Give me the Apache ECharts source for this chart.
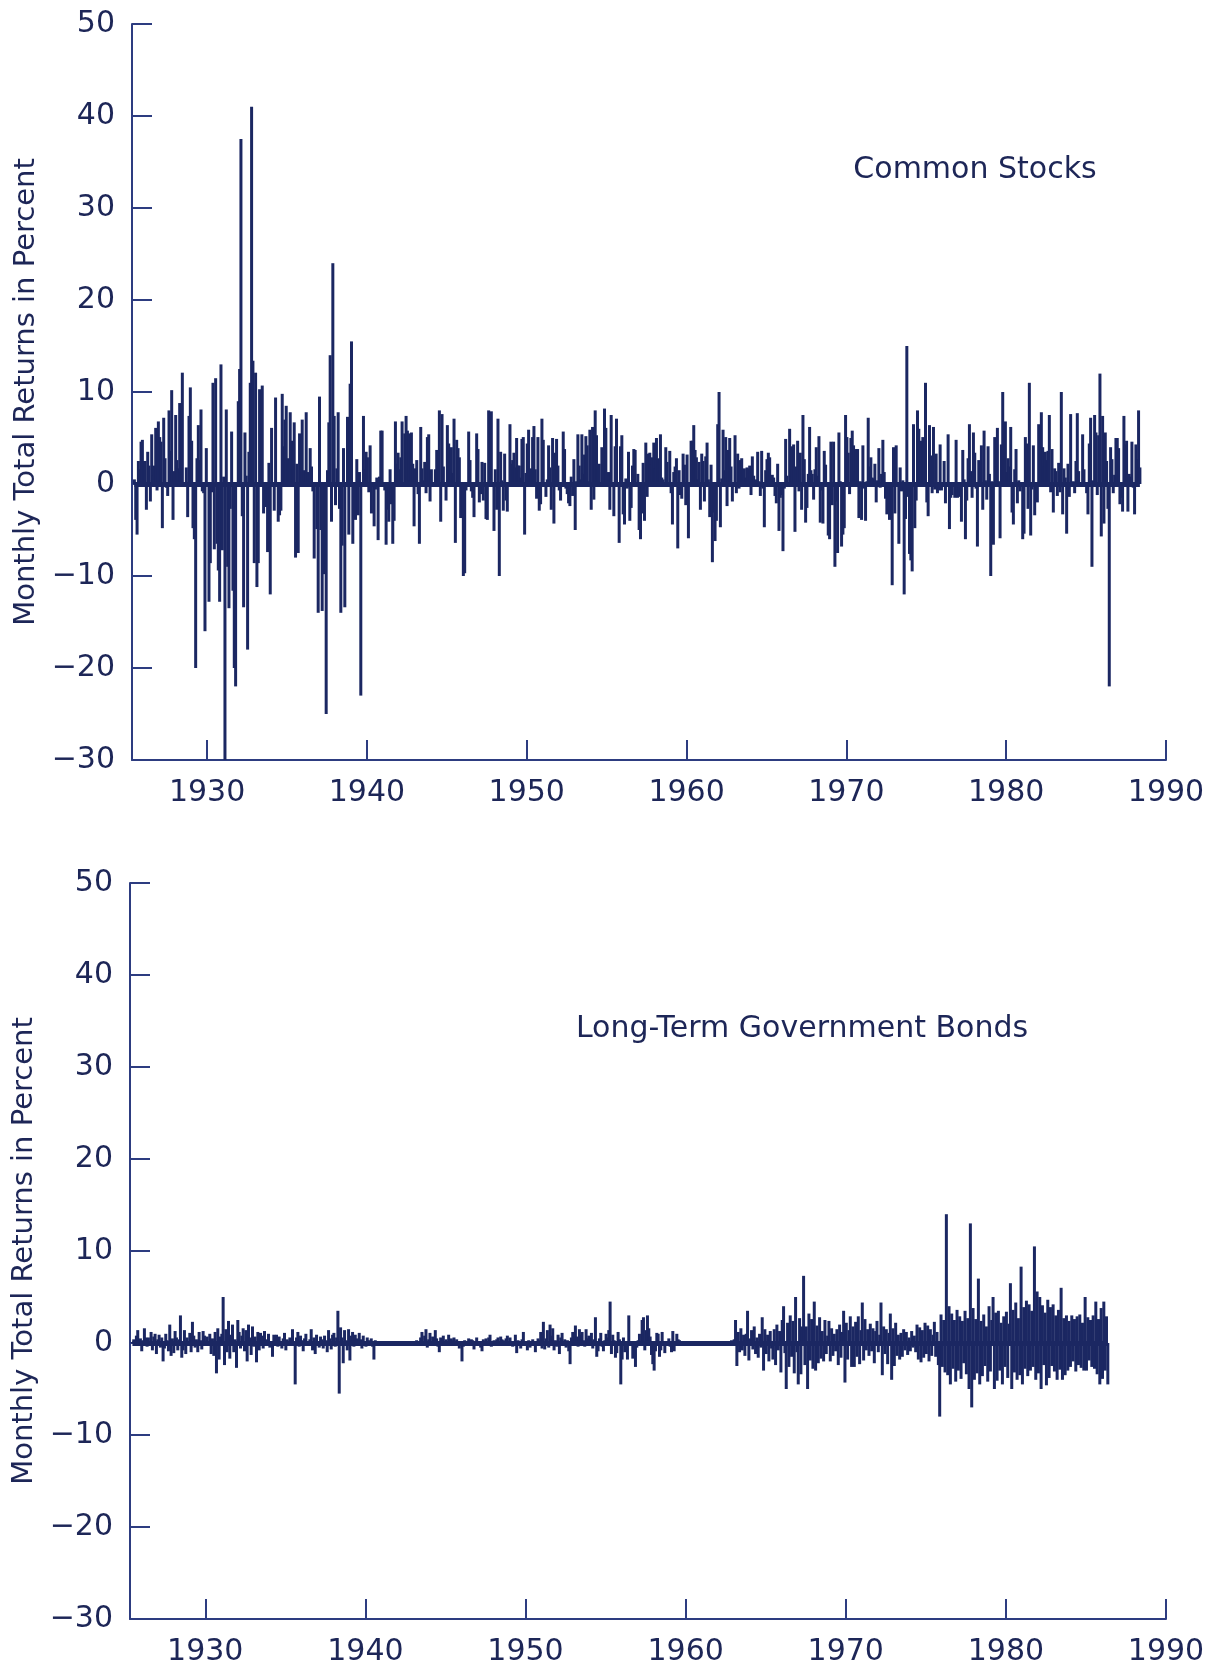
<!DOCTYPE html>
<html>
<head>
<meta charset="utf-8">
<title>Monthly Total Returns</title>
<script src="https://cdn.jsdelivr.net/npm/echarts@6.0.0/dist/echarts.min.js"></script>
<style>
    html, body { margin: 0; padding: 0; background: #ffffff; }
    #Chart { width: 1217px; height: 1667px; }
</style>
</head>
<body>
<div id="Chart"></div>
<script>
var Chart = echarts.init(document.getElementById('Chart'));

// decade ticks on the time axis
var yearTicks = [1930, 1940, 1950, 1960, 1970, 1980, 1990];

// monthly total returns (%), one line per year, Jan..Dec
var stockYears = [1926, 1988];
var stockReturns = [
    0.5, -3.9, -5.5, 2.5, 1.6, 4.6, 4.8, 2.5, 2.5, -2.8, 3.5, 2.0,          // 1926
    -1.9, 5.4, 0.9, 2.0, 6.1, -0.7, 6.8, 5.1, 4.6, -4.8, 7.2, 2.8,          // 1927
    -0.4, -1.3, 8.0, 3.6, 10.2, -3.9, 1.4, 7.5, 2.6, 1.7, 8.8, 1.3,         // 1928
    12.1, -0.2, -0.1, 1.8, -3.6, 7.4, 10.5, 4.7, -4.8, -6.0, -20.0, 2.8,    // 1929
    6.4, 2.6, 8.1, -0.8, -1.0, -16.0, 3.9, 0.1, -12.8, -8.6, -0.9, 11.0,    // 1930
    -7.1, 11.5, -6.5, -9.4, -12.8, 13.0, -7.2, 0.8, -30.0, 8.1, -9.0, -13.5, // 1931
    -2.7, 5.7, -11.6, -20.0, -22.0, -0.3, 9.0, 12.5, 37.5, -3.5, -13.4, 5.6, // 1932
    0.9, -18.0, 3.5, 11.0, 41.0, 13.4, -8.6, 12.1, -11.2, -8.6, 10.3, 2.5,  // 1933
    10.7, -3.2, 0.2, -2.5, -7.4, 2.3, -12.0, 6.1, -0.3, -2.9, 9.4, 0.1,     // 1934
    -4.1, -3.4, -2.9, 9.8, 4.1, 7.0, 8.5, 2.8, 2.6, 7.8, 4.7, 4.6,          // 1935
    6.7, -8.0, 2.2, -7.5, 5.5, 3.3, 7.0, 1.5, 0.3, 7.8, 1.3, -0.3,          // 1936
    3.9, 1.9, -0.8, -8.1, -0.2, -4.9, -14.0, 9.5, -5.0, -13.8, -9.8, -8.6,  // 1937
    -25.0, 1.5, 6.7, 14.0, -4.1, 24.0, 7.4, -2.3, 1.7, 7.8, -2.7, -14.0,    // 1938
    -6.7, 3.9, -13.4, -0.3, 7.3, -5.5, 10.9, 15.5, -6.5, -0.1, -3.9, 2.7,   // 1939
    -3.4, 1.3, -23.0, -0.2, 7.4, 1.6, 3.5, 2.9, -0.9, 4.2, -3.2, 0.1,       // 1940
    -4.6, -0.6, 0.7, -6.1, 0.8, 5.8, 5.8, 0.1, -0.7, -6.6, -2.8, -4.1,      // 1941
    1.6, -2.2, -6.5, -4.0, 6.8, 2.2, 3.4, 1.6, 2.9, 6.8, -0.2, 5.5,         // 1942
    7.4, 5.8, 5.5, 0.4, 5.6, 2.2, -4.6, 1.7, 2.6, -1.1, -6.5, 6.2,          // 1943
    1.7, 0.4, 2.4, -1.0, 5.1, 5.4, -1.9, 1.6, -0.1, 0.2, 1.6, 3.7,          // 1944
    1.6, 8.0, -4.1, 7.6, 1.9, -0.1, -1.8, 6.4, 4.4, 3.2, 4.0, 1.2,          // 1945
    7.1, -6.4, 4.8, 3.9, 2.9, -3.7, -2.4, -10.0, -9.7, -0.7, -0.3, 5.7,     // 1946
    2.6, -0.8, -1.5, -3.6, -0.1, 5.5, 3.8, -2.0, -1.1, 2.4, -1.8, 2.3,      // 1947
    -3.8, -3.9, 8.0, 2.9, 7.9, 0.1, -5.1, 1.6, -2.8, 7.1, -10.0, 3.5,       // 1948
    0.4, -2.9, 3.3, -1.8, -3.0, 0.1, 6.5, 2.2, 2.6, 3.4, 1.8, 5.0,          // 1949
    2.0, 2.0, 0.7, 4.9, 5.1, -5.5, 1.2, 4.4, 5.9, 0.9, 1.7, 5.1,            // 1950
    6.3, 1.6, -1.6, 5.1, -2.9, -2.2, 7.1, 4.8, 0.1, -1.4, 0.5, 4.2,         // 1951
    1.8, -2.8, 5.0, -4.3, 3.4, 4.9, 2.0, -0.7, -1.8, 0.2, 5.7, 3.8,         // 1952
    -0.5, -1.1, -2.1, -2.4, 0.8, -1.3, 2.7, -5.0, 0.3, 5.4, 2.0, 0.5,       // 1953
    5.4, 1.1, 3.2, 5.2, 4.2, 0.3, 5.9, -2.8, 6.2, -1.7, 8.0, 5.3,           // 1954
    2.0, 2.2, -0.3, 4.0, 0.6, 8.2, 6.1, -0.3, 1.3, -2.8, 7.5, 0.1,          // 1955
    -3.5, 4.1, 7.1, -0.1, -6.4, 4.1, 5.3, -3.3, -4.4, 0.6, -0.5, 3.5,       // 1956
    -4.0, -2.6, 2.0, 3.8, 3.7, 0.1, 1.1, -5.0, -6.0, -3.2, 2.3, -4.0,       // 1957
    4.5, -1.4, 3.3, 3.4, 2.1, 2.9, 4.5, 1.7, 5.0, 2.7, 2.8, 5.4,            // 1958
    0.7, 0.5, 0.1, 4.0, 2.4, -0.2, 3.6, -1.0, -4.4, 1.3, 1.9, 2.8,          // 1959
    -7.0, 1.5, -1.2, -1.6, 3.3, 2.1, -2.3, 3.2, -5.9, -0.1, 4.7, 4.7,       // 1960
    6.4, 3.7, 2.9, 0.5, 2.4, -2.8, 3.3, 2.5, -1.9, 3.0, 4.5, 0.5,           // 1961
    -3.6, 2.1, -8.5, -3.1, -6.2, -4.0, 6.5, 10.0, -4.7, 0.6, 5.9, 1.5,      // 1962
    5.1, -2.4, 3.7, 5.0, 1.9, -1.9, -0.2, 5.3, -1.0, 3.3, -0.5, 2.6,        // 1963
    2.8, 1.5, 1.7, 0.7, 1.8, 1.7, 2.0, -1.2, 3.0, 0.9, 0.1, 0.5,            // 1964
    3.5, 0.3, -1.3, 3.6, -0.5, -4.7, 1.5, 2.7, 3.4, 2.9, -0.3, 1.0,         // 1965
    0.7, -1.3, -2.1, 2.2, -5.1, -1.5, -1.2, -7.3, -0.5, 4.9, 0.9, -0.1,     // 1966
    6.0, 0.8, 4.1, 4.3, -5.2, 1.9, 4.7, -0.8, 3.4, -2.8, 7.5, 2.7,          // 1967
    -4.2, -2.6, 1.1, 6.2, 1.5, 1.1, -1.7, 1.6, 4.0, 0.9, 5.2, -4.2,         // 1968
    -0.7, -4.3, 3.6, 2.1, 0.2, -5.6, -6.0, 4.6, -2.3, 4.6, -9.0, -1.9,      // 1969
    -7.5, 5.6, 0.3, -6.8, -5.5, -4.8, 7.5, 5.1, 3.4, -1.1, 5.0, 5.8,        // 1970
    4.2, 1.4, 3.8, 3.8, -3.7, 0.3, -3.9, 4.2, -0.5, -4.0, 0.3, 7.2,         // 1971
    1.9, 2.9, 0.7, 0.6, 2.2, -2.0, 0.4, 3.9, -0.4, 1.1, 4.8, 1.3,           // 1972
    -1.6, -3.3, -0.1, -3.9, -1.4, -11.0, 4.0, -3.2, 4.2, 0.1, -6.5, 1.8,    // 1973
    -0.8, 0.4, -12.0, -3.8, 15.0, -1.4, -7.6, -8.3, -9.5, 6.5, -4.8, -1.8,  // 1974
    8.0, 6.0, 2.4, 4.7, 5.1, 4.6, 11.0, -2.0, -3.5, 6.4, 3.1, -1.0,         // 1975
    6.2, -0.6, 3.3, -1.0, -0.7, 4.3, -0.7, 0.1, 2.5, -2.1, -0.1, 5.4,       // 1976
    -4.9, -1.5, -1.2, 0.1, -1.5, 4.8, -1.5, -1.4, 0.1, -4.1, 3.7, 0.5,      // 1977
    -6.0, -1.8, 2.8, 6.5, 1.4, -1.5, 5.6, 3.4, -0.5, -6.8, 2.6, 1.7,        // 1978
    4.2, -2.8, 5.8, 0.4, -1.7, 4.1, 1.1, -10.0, 0.3, -6.6, 5.1, 1.9,        // 1979
    6.1, 0.3, -5.9, 4.3, 10.0, 3.0, 6.8, 1.3, 2.8, 1.9, 6.2, -3.1,          // 1980
    -4.4, 1.6, 3.8, -2.1, 0.4, -0.8, -0.1, -6.0, -5.4, 5.1, 4.4, -2.7,      // 1981
    11.0, -5.6, -0.6, 4.2, -3.4, -1.8, -2.0, 6.5, 1.3, 7.8, 4.0, 1.9,       // 1982
    3.5, 2.6, 3.6, 7.5, -0.9, 3.8, -3.1, 1.7, 1.4, -1.3, 2.3, -0.9,         // 1983
    10.0, -3.3, 1.7, 0.7, -5.4, 2.2, -1.4, 7.6, 0.1, 0.3, -1.0, 2.5,        // 1984
    7.7, 1.4, 0.1, -0.3, 5.4, 1.6, -0.3, -1.0, -3.3, 4.4, 7.2, -9.0,        // 1985
    0.4, 7.5, 5.6, -1.2, 5.3, 12.0, -5.7, 7.4, -4.3, 5.6, 2.5, -2.7,        // 1986
    -22.0, 4.0, 2.7, -1.0, 1.0, 5.0, 5.0, 3.9, -2.2, -1.5, -3.0, 7.4,       // 1987
    4.3, 4.7, -3.0, 1.1, 0.8, 4.6, -0.4, -3.3, 4.3, 2.7, 8.0, 1.8           // 1988
];

var bondYears = [1926, 1986];
var bondReturns = [
    0.1, 0.4, -0.3, 0.8, 1.4, -0.2, 0.5, -0.9, 0.3, 1.6, 0.6, -0.4,         // 1926
    0.6, -0.3, 1.2, -0.8, 0.7, 1.0, -1.2, 0.4, 0.9, -0.5, 0.6, -2.0,        // 1927
    -0.6, 1.0, 0.3, -0.9, 2.0, -1.4, 0.5, -1.1, 1.3, 0.6, -0.8, 0.4,        // 1928
    3.0, -1.6, -0.8, 1.4, -1.2, 0.6, -0.3, 1.1, -1.0, 2.3, 0.8, -0.5,       // 1929
    0.4, -1.0, 1.2, 0.3, -0.7, 1.3, 0.8, 0.1, 0.7, -0.2, 1.0, -1.2,         // 1930
    0.5, -1.4, 1.2, -3.3, 1.6, -1.8, 0.7, 1.0, 5.0, -2.4, 1.5, -1.0,        // 1931
    2.4, -1.7, 0.9, 2.0, -1.0, 0.4, -2.7, 2.5, 1.2, -0.6, 0.8, 1.6,         // 1932
    -0.9, 1.4, -2.0, 2.0, 0.6, -1.3, 1.8, -0.4, 0.7, -2.1, 1.2, -0.8,       // 1933
    1.1, 0.8, -0.6, 1.3, 0.4, -0.3, 1.0, -0.5, 0.2, -1.5, 0.9, 0.3,         // 1934
    0.9, -0.4, 0.7, 0.2, -0.6, 0.5, 1.1, -0.8, 0.4, -0.2, 0.6, 0.1,         // 1935
    1.5, 0.2, -4.5, 0.6, 1.2, -0.4, 0.8, 0.3, -0.9, 0.5, 1.0, -0.2,         // 1936
    -0.3, 0.4, 1.5, -0.8, 0.6, -1.2, 0.9, 0.2, -0.5, 0.7, 0.4, -0.6,        // 1937
    0.8, 0.3, -1.0, 1.4, 0.5, -0.7, 0.9, 1.1, -0.4, 0.6, 3.5, -5.5,         // 1938
    1.7, 0.6, -2.2, 1.4, 0.3, -0.8, 1.5, -1.9, 0.8, 1.2, -0.4, 0.9,         // 1939
    0.5, -0.3, 1.1, 0.4, -0.6, 0.8, 0.2, -0.4, 0.6, 0.3, -0.2, 0.5,         // 1940
    -0.4, -1.8, 0.3, 0.1, -0.2, 0.2, 0.1, -0.1, 0.2, 0.1, -0.1, 0.2,        // 1941
    0.1, -0.1, 0.2, 0.1, -0.1, 0.1, 0.2, 0.1, 0.1, -0.1, 0.1, 0.2,          // 1942
    0.1, 0.1, 0.2, -0.1, 0.1, 0.1, 0.1, 0.2, 0.1, 0.3, -0.1, 0.2,           // 1943
    0.6, 1.2, -0.3, 0.8, 1.5, -0.5, 0.4, 1.1, -0.2, 0.7, 0.3, 1.4,          // 1944
    0.5, -0.4, -1.0, 0.6, 0.2, 0.8, -0.3, 0.4, 0.1, 0.9, -0.2, 0.5,         // 1945
    0.3, 0.6, -0.2, 0.4, 0.1, -0.6, 0.2, -2.0, -0.4, 0.3, 0.1, -0.3,        // 1946
    0.5, -0.2, 0.4, 0.3, -0.7, 0.2, 0.6, -0.3, 0.1, -0.5, -0.9, 0.4,        // 1947
    0.2, 0.5, -0.3, 0.6, 0.9, -0.4, 0.1, 0.3, -0.2, 0.4, 0.6, 0.2,          // 1948
    0.7, 0.4, 0.3, -0.2, 0.5, 0.8, -0.3, 0.6, 0.2, -0.4, 0.1, 0.9,          // 1949
    -1.1, 0.3, 0.2, -0.6, 0.4, 1.2, 0.1, -0.3, -0.8, 0.3, -0.5, 0.2,        // 1950
    0.4, -0.3, -1.0, 0.2, 0.5, 0.3, 1.2, -0.6, 2.3, -0.7, 0.5, 1.4,         // 1951
    -0.5, 2.0, 0.8, 1.6, -0.8, 0.3, -0.4, 0.9, -1.2, 0.6, 1.1, -0.2,        // 1952
    0.4, -0.5, 0.3, -0.9, -2.3, 0.6, 1.2, -0.3, 1.9, 0.7, -0.4, 1.5,        // 1953
    0.9, 1.2, 0.3, -0.4, 1.5, 0.5, 0.8, -0.2, 1.1, -0.6, 0.4, 2.8,          // 1954
    -1.5, -0.9, 0.5, 1.1, -0.4, -0.9, 0.3, 1.0, 0.6, 1.4, 4.5, -1.2,        // 1955
    0.9, 0.3, -1.6, -1.1, 1.2, 0.4, -4.5, -1.8, 0.6, -1.0, -0.7, -1.8,      // 1956
    3.0, 0.2, -0.3, -1.7, 0.1, -2.6, -0.5, 0.3, 1.0, -0.2, 2.5, 2.8,        // 1957
    -0.8, 1.4, 3.0, 1.6, 0.7, -1.3, -2.3, -3.0, -0.9, 1.1, 1.0, -1.5,       // 1958
    -0.8, 1.2, 0.2, -1.1, -0.1, 0.2, 0.5, -0.4, -1.0, 1.3, -0.9, -0.3,      // 1959
    1.0, 0.4, 0.3, 0.1, -0.2, 0.2, 0.1, 0.1, 0.1, -0.1, 0.1, 0.2,           // 1960
    0.2, 0.1, 0.1, 0.1, -0.1, 0.1, 0.1, 0.1, 0.2, 0.1, 0.1, -0.1,           // 1961
    0.1, 0.2, 0.1, 0.1, 0.1, -0.1, 0.1, 0.2, 0.1, 0.1, 0.1, 0.1,            // 1962
    0.2, 0.1, 0.1, 0.2, 0.1, 0.3, -0.2, 0.4, 2.5, -2.5, 1.2, -1.0,          // 1963
    1.6, -0.8, 0.9, -1.4, 1.0, 3.5, -1.9, 0.5, 1.4, -0.7, 1.8, -1.2,        // 1964
    0.6, -1.6, 1.0, -0.5, 2.8, -3.0, 1.5, -1.2, 0.9, -2.0, 1.3, -0.6,       // 1965
    -1.8, 1.5, -2.4, 2.0, -0.8, 1.3, -3.2, 2.5, 4.0, -1.1, -5.0, 2.2,       // 1966
    -2.6, 3.0, -1.5, 2.4, -3.3, 5.0, -1.0, -4.5, 2.7, -3.4, 1.8, 7.3,       // 1967
    -2.4, 1.8, -5.0, 3.2, -1.9, 2.6, -2.8, 4.5, -3.0, 1.9, -2.2, 2.8,       // 1968
    -1.7, 1.3, -2.0, 2.5, -1.2, 0.8, 2.4, -2.0, 1.6, -1.4, 1.0, -0.9,       // 1969
    1.5, -2.4, 2.0, -1.6, 1.2, 3.5, -4.3, 2.2, -1.8, 1.4, 2.9, -2.6,        // 1970
    1.8, -2.6, 2.3, -1.5, 2.9, -2.3, 1.4, 4.4, -1.9, 2.6, -0.8, 1.5,        // 1971
    -1.4, 2.1, -0.9, 1.6, -2.2, 1.3, 2.4, -1.0, 0.9, 4.4, -3.5, 1.8,        // 1972
    -1.2, 1.5, -2.3, 1.1, 3.2, -4.0, 1.6, -2.5, 2.2, -1.4, 0.9, -1.8,       // 1973
    1.1, -1.5, 1.5, -0.8, 1.2, -1.3, 0.6, -0.9, 1.3, -0.5, 0.8, -1.0,       // 1974
    2.0, -1.8, 1.7, -2.1, 1.4, -1.6, 2.2, -1.2, 1.9, -2.0, 1.5, -1.4,       // 1975
    0.9, 2.3, -1.5, 1.2, -2.4, -8.0, 3.1, -2.6, 2.5, -3.2, 14.0, -3.5,      // 1976
    4.0, -4.5, 3.2, -2.8, 2.5, -4.2, 3.6, -3.0, 2.9, -3.9, 2.4, -2.2,       // 1977
    3.5, -3.4, 2.7, -5.0, 13.0, -7.0, 3.8, -4.0, 2.6, -3.3, 7.0, -4.5,      // 1978
    2.4, -3.6, 3.1, -2.5, 1.8, -4.2, 4.0, -3.1, 2.5, 5.0, -5.0, 3.3,        // 1979
    -4.1, 3.5, -3.0, 2.2, -4.5, 2.9, -2.6, 3.4, -3.8, 2.1, 6.5, -5.0,       // 1980
    3.6, -3.2, 4.4, -4.0, 2.7, -3.5, 8.3, -4.5, 3.9, -2.8, 4.6, -3.6,       // 1981
    4.2, -3.0, 3.5, -2.6, 10.5, -4.0, 5.6, -3.3, 5.0, -5.0, 4.1, -2.4,      // 1982
    3.3, -4.6, 4.7, -3.8, 3.9, -2.5, 4.2, -3.1, 3.0, -4.0, 3.6, -2.9,       // 1983
    6.0, -4.0, 2.7, -3.5, 3.0, -3.0, 2.4, -2.6, 3.0, -2.0, 2.6, -3.1,       // 1984
    2.9, -2.4, 3.1, -2.7, 2.2, -3.0, 5.0, -3.0, 2.8, -1.9, 2.5, -2.6,       // 1985
    3.0, -2.8, 4.5, -3.4, 2.6, -4.5, 3.8, -3.9, 4.5, -3.0, 2.9, -4.5        // 1986
];

// where the first month sits on the drawn time axis
var firstMonthPos = 1925.45;

var navy = '#1b2762';
var axisColor = '#2d3c80';
var textColor = '#1d2657';
var fontName = 'DejaVu Sans';

function monthPoints(values) {
    return values.map(function (v, i) {
        return [firstMonthPos + i / 12, v];
    });
}

function makeXAxis(gridIndex) {
    return {
        type: 'value',
        gridIndex: gridIndex,
        min: 1925.3,
        max: 1990,
        splitLine: {show: false},
        axisLine: {show: true, onZero: false, lineStyle: {color: axisColor, width: 2}},
        axisTick: {show: true, inside: true, length: 20, customValues: yearTicks,
            lineStyle: {color: axisColor, width: 2}},
        axisLabel: {show: true, customValues: yearTicks, margin: 18,
            color: textColor, fontSize: 30, fontFamily: fontName,
            formatter: function (v) { return String(v); }}
    };
}

function makeYAxis(gridIndex) {
    return {
        type: 'value',
        gridIndex: gridIndex,
        min: -30,
        max: 50,
        interval: 10,
        name: 'Monthly Total Returns in Percent',
        nameLocation: 'middle',
        nameRotate: 90,
        nameGap: 86,
        nameTextStyle: {color: textColor, fontSize: 29, fontFamily: fontName},
        splitLine: {show: false},
        axisLine: {show: true, onZero: false, lineStyle: {color: axisColor, width: 2}},
        axisTick: {show: true, inside: true, length: 20, lineStyle: {color: axisColor, width: 2}},
        axisLabel: {margin: 17, color: textColor, fontSize: 30, fontFamily: fontName,
            formatter: function (v) { return v < 0 ? '\u2212' + Math.abs(v) : String(v); }}
    };
}

// one needle per month, from zero to the month's return
function renderNeedle(params, api) {
    var top = api.coord([api.value(0), api.value(1)]);
    var base = api.coord([api.value(0), 0]);
    var w = 3;
    return {
        type: 'rect',
        shape: {x: top[0] - w / 2, y: Math.min(top[1], base[1]), width: w,
            height: Math.abs(base[1] - top[1])},
        style: {fill: navy}
    };
}

function makeSeries(name, values, idx) {
    var pts = monthPoints(values);
    return {
        name: name,
        type: 'custom',
        xAxisIndex: idx,
        yAxisIndex: idx,
        data: pts,
        encode: {x: 0, y: 1},
        renderItem: renderNeedle,
        silent: true,
        markLine: {
            silent: true,
            symbol: 'none',
            label: {show: false},
            lineStyle: {color: navy, width: 5, type: 'solid'},
            data: [[{coord: [pts[0][0], 0]}, {coord: [pts[pts.length - 1][0], 0]}]]
        }
    };
}

var ReturnsOption = {
    animation: false,
    backgroundColor: '#ffffff',
    title: [
        {
            text: 'Common Stocks',
            left: 975,
            top: 155,
            textAlign: 'center',
            padding: 0,
            textStyle: {color: textColor, fontSize: 30, fontWeight: 'normal', fontFamily: fontName}
        },
        {
            text: 'Long-Term Government Bonds',
            left: 802,
            top: 1014,
            textAlign: 'center',
            padding: 0,
            textStyle: {color: textColor, fontSize: 30, fontWeight: 'normal', fontFamily: fontName}
        }
    ],
    grid: [
        {left: 132, top: 24, right: 51, height: 736},
        {left: 130, top: 883, right: 51, height: 737}
    ],
    xAxis: [makeXAxis(0), makeXAxis(1)],
    yAxis: [makeYAxis(0), makeYAxis(1)],
    series: [
        makeSeries('Common Stocks', stockReturns, 0),
        makeSeries('Long-Term Government Bonds', bondReturns, 1)
    ]
};

Chart.setOption(ReturnsOption);

window.addEventListener("resize", function () {
    Chart.resize();
});
</script>
</body>
</html>
